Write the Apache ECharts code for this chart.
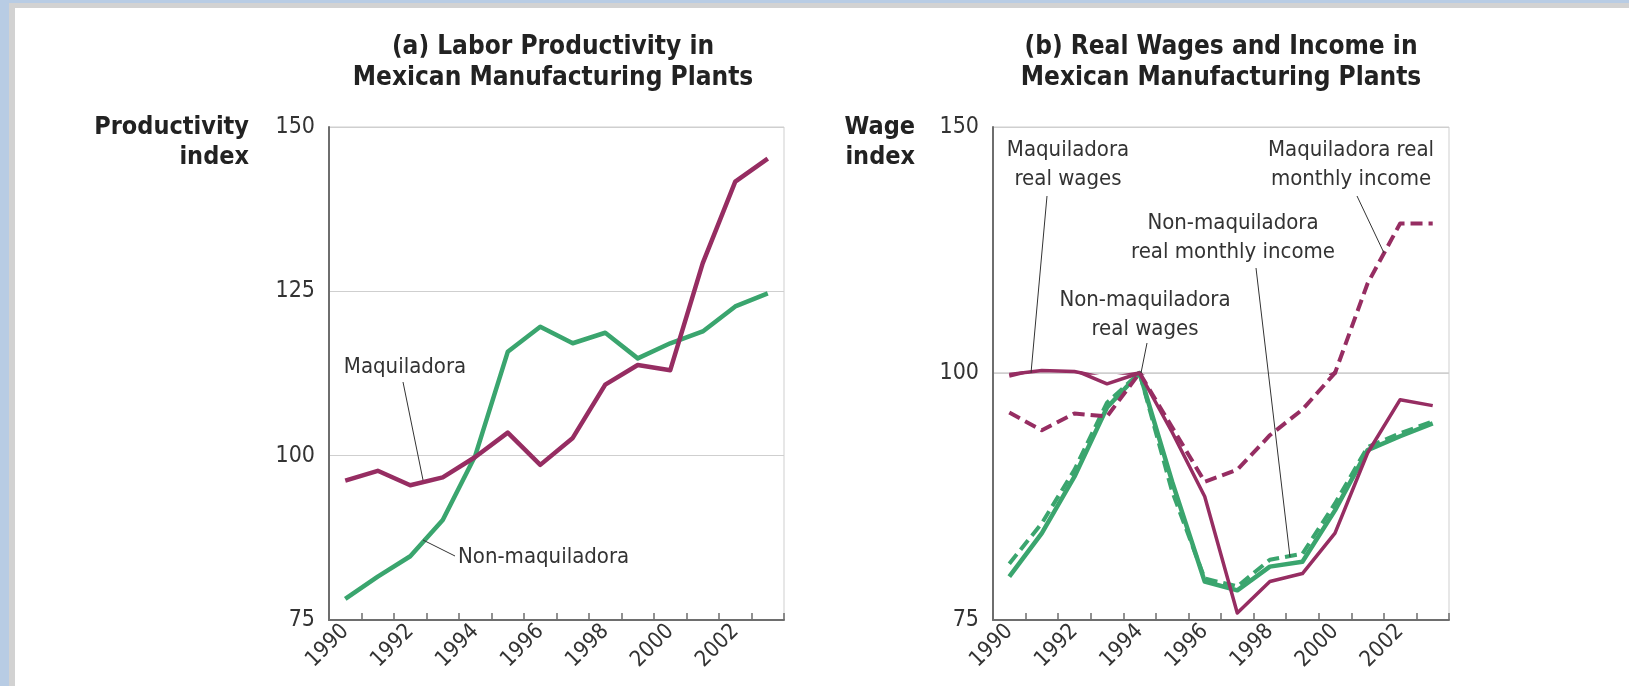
<!DOCTYPE html>
<html><head><meta charset="utf-8">
<script src="https://cdn.jsdelivr.net/npm/echarts@6/dist/echarts.min.js"></script>
<style>
html,body{margin:0;padding:0;width:1629px;height:686px;overflow:hidden;background:#b8cce4;}
#frame{position:absolute;left:9px;top:3px;right:0;bottom:0;background:#d2d2d2;}
#panel{position:absolute;left:15px;top:8px;right:0;bottom:0;background:#fff;}
#chart{position:absolute;left:0;top:0;width:1629px;height:686px;}
</style></head><body>
<div id="frame"></div><div id="panel"></div><div id="chart"></div>
<script>
// ---- data ----
const years = ['1990','1991','1992','1993','1994','1995','1996','1997','1998','1999','2000','2001','2002','2003'];
// panel (a): productivity index
const prodMaquiladora    = [96.2, 97.7, 95.5, 96.7, 99.8, 103.5, 98.6, 102.7, 110.8, 113.8, 113.0, 129.3, 141.7, 145.2];
const prodNonMaquiladora = [78.2, 81.6, 84.7, 90.2, 100.0, 115.8, 119.6, 117.1, 118.7, 114.8, 117.1, 118.9, 122.7, 124.7];
// panel (b): wage index
const wageMaquiladora      = [99.7, 100.5, 100.3, 98.9, 100.0, 94.0, 87.5, 75.7, 78.9, 79.7, 83.8, 91.9, 97.3, 96.7];
const incomeMaquiladora    = [96.0, 94.2, 95.9, 95.6, 100.0, 94.5, 89.0, 90.2, 93.7, 96.3, 100.0, 118.2, 130.4, 130.4];
const wageNonMaquiladora   = [79.4, 83.8, 89.5, 96.5, 100.0, 89.0, 78.9, 78.0, 80.4, 80.9, 86.1, 92.2, 93.6, 94.9];
const incomeNonMaquiladora = [80.7, 84.8, 90.2, 97.0, 100.0, 88.0, 79.2, 78.4, 81.1, 81.7, 86.8, 92.5, 93.9, 95.1];
const leftTicks = [75, 100, 125, 150];
const rightTicks = [75, 100, 150];

// ---- style ----
const FONT = '"DejaVu Sans Condensed", "Liberation Sans Narrow", "DejaVu Sans", sans-serif';
const PURPLE = '#962d62';
const GREEN = '#3aa56e';
const AXIS = '#6e6e6e';
const GRIDC = '#cfcfcf';
const TXT = '#333333';

const chart = echarts.init(document.getElementById('chart'), null, {renderer: 'canvas'});

function xAxisCfg(gi, show) {
  return {
    type: 'category', gridIndex: gi, data: years, boundaryGap: true, show: show,
    axisLine: {lineStyle: {color: AXIS, width: 2}},
    axisTick: {show: true, inside: true, length: 7, interval: 0, lineStyle: {color: AXIS, width: 1.5}},
    axisLabel: {interval: 1, rotate: 45, fontSize: 22, color: TXT, fontFamily: FONT, margin: 8},
    splitLine: {show: false}
  };
}
function yAxisCfg(gi, min, max, interval, extra) {
  return Object.assign({
    type: 'value', gridIndex: gi, min: min, max: max, interval: interval,
    axisLine: {show: true, lineStyle: {color: AXIS, width: 2}},
    axisTick: {show: false},
    axisLabel: {fontSize: 23, color: TXT, fontFamily: FONT, margin: 14},
    splitLine: {show: true, lineStyle: {color: GRIDC, width: 1}}
  }, extra || {});
}
function lineSeries(name, data, color, dashed, xi, yi, width) {
  return {
    name: name, type: 'line', data: data, xAxisIndex: xi, yAxisIndex: yi,
    symbol: 'none', clip: true, animation: false,
    lineStyle: {color: color, width: width, type: dashed ? [12, 6] : 'solid', join: 'round', cap: 'butt'},
    emphasis: {disabled: true}
  };
}
// panel (b) uses a broken scale: 100-150 in the upper half, 75-100 in the lower half
function splitSeries(name, data, color, dashed, width) {
  return [lineSeries(name, data, color, dashed, 1, 1, width),
          lineSeries(name, data, color, dashed, 2, 2, width)];
}

function txt(x, y, text, opt) {
  opt = opt || {};
  const align = opt.align || 'center';
  return {type: 'text', x: x, y: y, silent: true, z: 10,
    style: {text: text, font: (opt.bold ? 'bold ' : '') + (opt.size || 22) + 'px ' + FONT,
      fill: opt.color || TXT, align: align, verticalAlign: 'middle', textAlign: align, textVerticalAlign: 'middle'}};
}
function leader(x1, y1, x2, y2) {
  return {type: 'line', silent: true, z: 10, shape: {x1: x1, y1: y1, x2: x2, y2: y2},
    style: {stroke: '#333', lineWidth: 1}};
}

const option = {
  backgroundColor: 'transparent',
  animation: false,
  grid: [
    {left: 329, top: 127, width: 455, height: 493, show: true, borderColor: GRIDC, borderWidth: 1, backgroundColor: 'transparent'},
    {left: 993, top: 127, width: 456, height: 246, show: true, borderColor: GRIDC, borderWidth: 1, backgroundColor: 'transparent'},
    {left: 993, top: 373, width: 456, height: 247, show: true, borderColor: GRIDC, borderWidth: 1, backgroundColor: 'transparent'}
  ],
  xAxis: [xAxisCfg(0, true), xAxisCfg(1, false), xAxisCfg(2, true)],
  yAxis: [
    yAxisCfg(0, leftTicks[0], leftTicks[3], 25),
    yAxisCfg(1, rightTicks[1], rightTicks[2], 50),
    yAxisCfg(2, rightTicks[0], rightTicks[1], 25, {axisLabel: {fontSize: 23, color: TXT, fontFamily: FONT, margin: 14, showMaxLabel: false}, splitLine: {show: false}})
  ],
  series: [
    lineSeries('Non-maquiladora', prodNonMaquiladora, GREEN, false, 0, 0, 4.5),
    lineSeries('Maquiladora', prodMaquiladora, PURPLE, false, 0, 0, 4.5)
  ].concat(
    splitSeries('Non-maquiladora real wages', wageNonMaquiladora, GREEN, false, 4.5),
    splitSeries('Non-maquiladora real monthly income', incomeNonMaquiladora, GREEN, true, 4),
    splitSeries('Maquiladora real monthly income', incomeMaquiladora, PURPLE, true, 4),
    splitSeries('Maquiladora real wages', wageMaquiladora, PURPLE, false, 3.5)
  ),
  graphic: [
    // titles
    txt(553, 47, '(a) Labor Productivity in', {bold: true, size: 26, color: '#222'}),
    txt(553, 78, 'Mexican Manufacturing Plants', {bold: true, size: 26, color: '#222'}),
    txt(1221, 47, '(b) Real Wages and Income in', {bold: true, size: 26, color: '#222'}),
    txt(1221, 78, 'Mexican Manufacturing Plants', {bold: true, size: 26, color: '#222'}),
    // axis names
    txt(249, 127, 'Productivity', {bold: true, size: 25, align: 'right', color: '#222'}),
    txt(249, 157, 'index', {bold: true, size: 25, align: 'right', color: '#222'}),
    txt(915, 127, 'Wage', {bold: true, size: 25, align: 'right', color: '#222'}),
    txt(915, 157, 'index', {bold: true, size: 25, align: 'right', color: '#222'}),
    // panel (a) annotations
    txt(405, 367, 'Maquiladora'),
    leader(403, 382, 423, 480),
    txt(458, 557, 'Non-maquiladora', {align: 'left'}),
    leader(423, 540, 455, 556),
    // panel (b) annotations
    txt(1068, 150, 'Maquiladora'),
    txt(1068, 179, 'real wages'),
    leader(1047, 196, 1031, 373),
    txt(1351, 150, 'Maquiladora real'),
    txt(1351, 179, 'monthly income'),
    leader(1357, 196, 1384, 253),
    txt(1233, 223, 'Non-maquiladora'),
    txt(1233, 252, 'real monthly income'),
    leader(1256, 268, 1290, 557),
    txt(1145, 300, 'Non-maquiladora'),
    txt(1145, 329, 'real wages'),
    leader(1147, 343, 1141, 373)
  ]
};
chart.setOption(option);
</script>
</body></html>
